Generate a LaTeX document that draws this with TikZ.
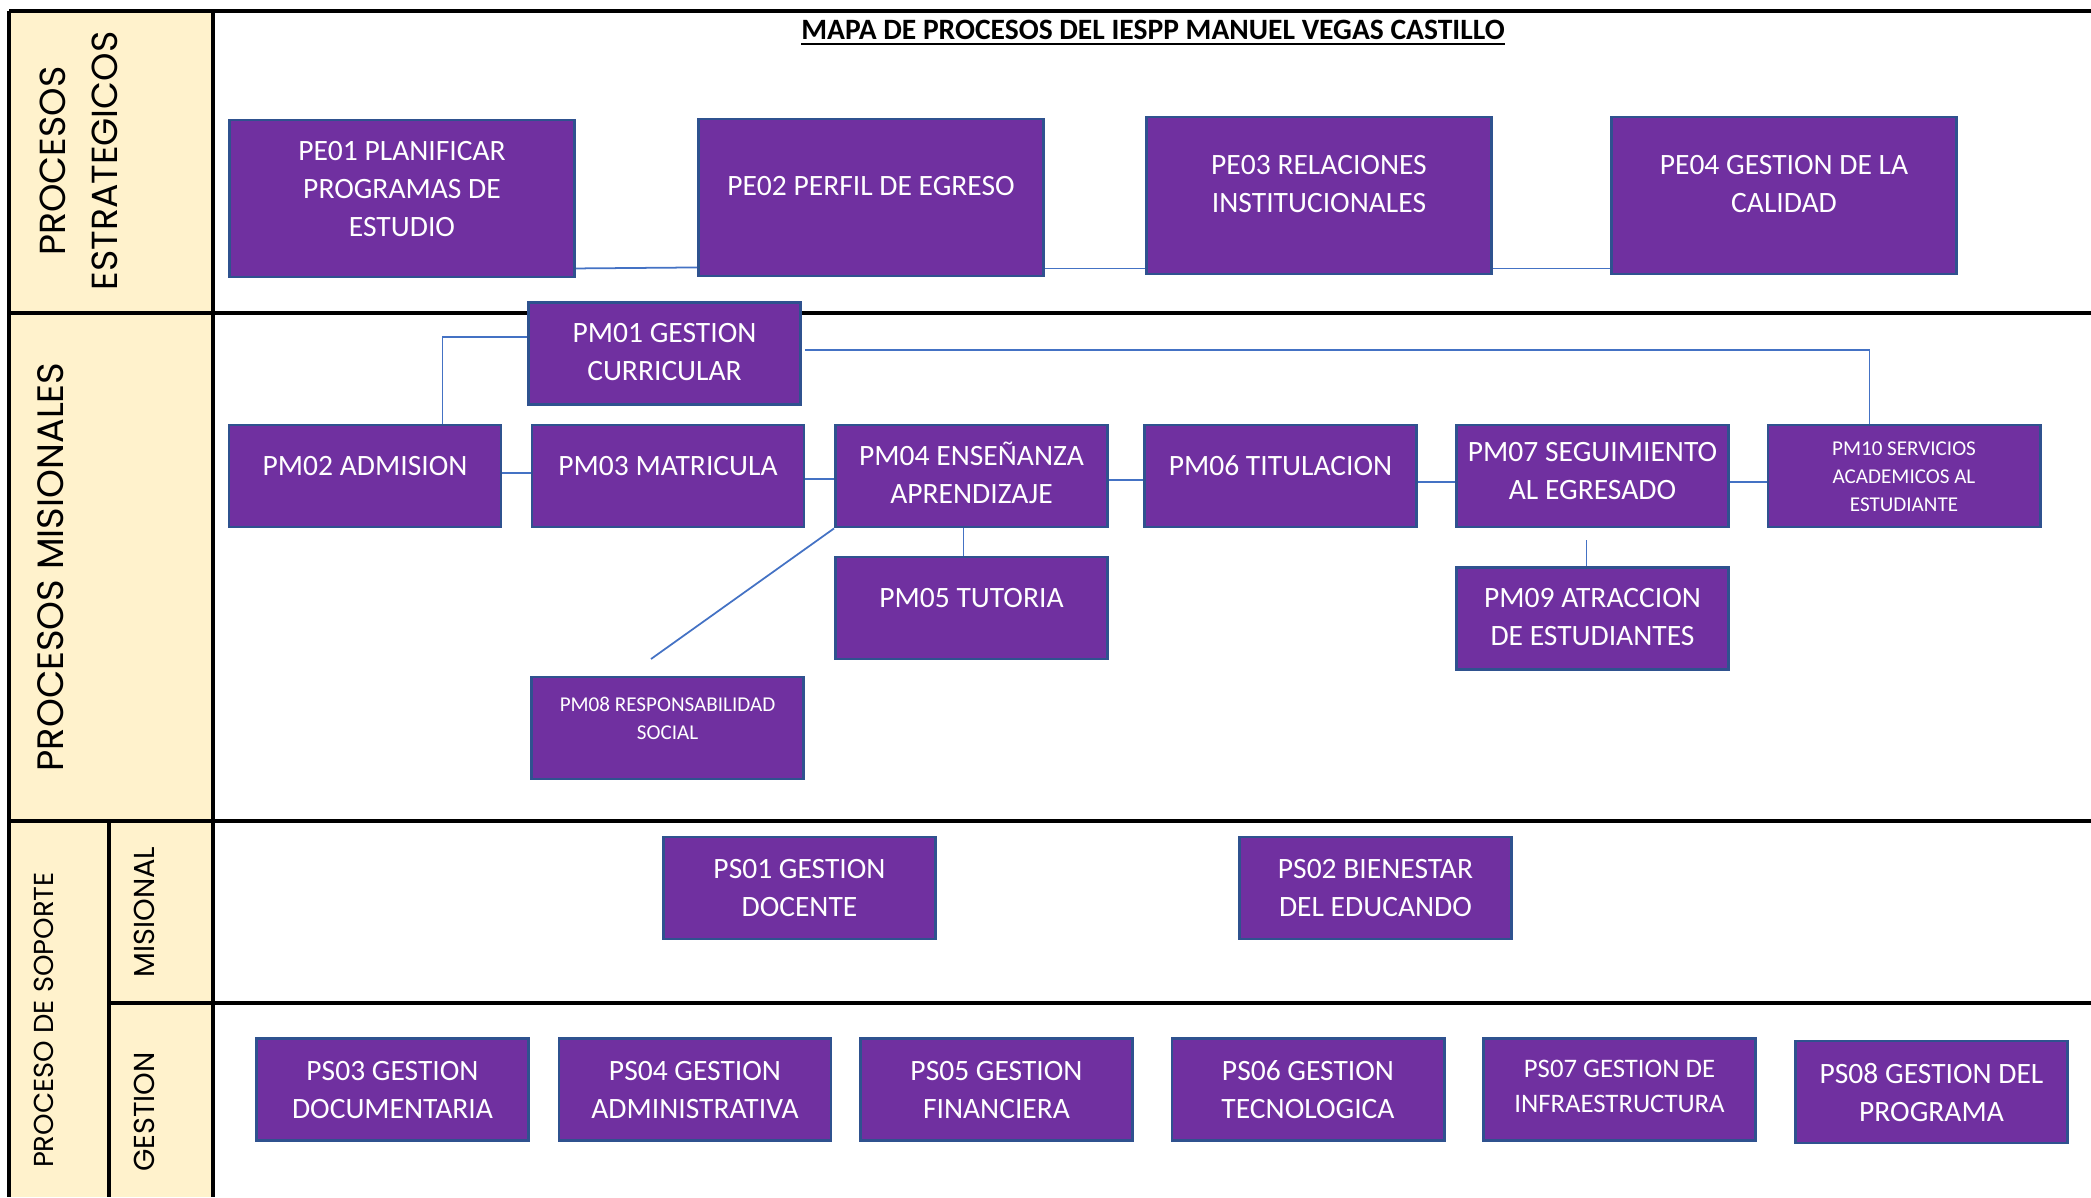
\documentclass[tikz,border=0pt]{standalone}
\usepackage{fontspec}
\setmainfont{Carlito}
\newfontfamily\gothic{Poppins}
\usetikzlibrary{calc}

\definecolor{procfill}{HTML}{7030A0}
\definecolor{procline}{HTML}{2F528F}
\definecolor{linkblue}{HTML}{4472C4}
\definecolor{bandyellow}{HTML}{FFF2CC}

% centred lines; the optional argument lifts the text inside its box
\newcommand{\boxlines}[2][-1.5pt]{\begin{tabular}{@{}c@{}}#2\\[#1]\end{tabular}}
\newcommand{\procfont}{\fontsize{8.4}{10.8}\selectfont}
\newcommand{\smallproc}{\fontsize{6}{8}\selectfont}

\begin{document}
\begin{tikzpicture}[x=0.01cm,y=-0.01cm,
  proc/.style={draw=procline, line width=0.8pt, fill=procfill, text=white,
    inner sep=0pt, font=\procfont},
  bigproc/.style={proc, minimum width=3.45cm, minimum height=1.57cm},
  midproc/.style={proc, minimum width=2.72cm, minimum height=1.02cm},
  conn/.style={draw=linkblue, line width=0.5pt},
  frame/.style={line width=0.9pt, black},
  sidelabel/.style={rotate=90, inner sep=0pt, align=center}]

\useasboundingbox (0,0) rectangle (2091,1197);

% label column and table rules
\fill[bandyellow] (9,11) rectangle (213,1197);
\draw[frame] (9,11) -- (2091,11);
\draw[frame] (9,313) -- (2091,313);
\draw[frame] (9,821) -- (2091,821);
\draw[frame] (109,1003) -- (2091,1003);
\draw[frame] (9,11) -- (9,1197);
\draw[frame] (213,11) -- (213,1197);
\draw[frame] (109,821) -- (109,1197);

% row headings
\node[sidelabel, font=\gothic\fontsize{10.3}{14.8}\selectfont] (hEstr) at (79,161) {PROCESOS\\ESTRATEGICOS};
\node[sidelabel, font=\gothic\fontsize{10.45}{12}\selectfont] (hMis) at (51,567) {PROCESOS MISIONALES};
\node[sidelabel, font=\gothic\fontsize{7.8}{9}\selectfont] (hSop) at (44,1020) {PROCESO DE SOPORTE};
\node[sidelabel, font=\gothic\fontsize{8.2}{9}\selectfont] (hMisional) at (144,912) {MISIONAL};
\node[sidelabel, font=\gothic\fontsize{8.2}{9}\selectfont] (hGestion) at (144,1112) {GESTION};

% title
\node[inner sep=0pt] (title) at (1153,33) {\fontsize{8.4}{10}\selectfont\bfseries\underline{MAPA DE PROCESOS DEL IESPP MANUEL VEGAS CASTILLO}};

% strategic processes
\node[bigproc] (pe1) at (402,198.5) {\boxlines[4.2pt]{PE01 PLANIFICAR\\PROGRAMAS DE\\ESTUDIO}};
\node[bigproc] (pe2) at (871,197.5) {\boxlines[5.3pt]{PE02 PERFIL DE EGRESO}};
\node[bigproc] (pe3) at (1319,195.5) {\boxlines[5.3pt]{PE03 RELACIONES\\INSTITUCIONALES}};
\node[bigproc] (pe4) at (1784,195.5) {\boxlines[5.3pt]{PE04 GESTION DE LA\\CALIDAD}};

\draw[conn] ($(pe1.south east)+(0,-10)$) -- ($(pe2.south west)+(0,-10)$);
\draw[conn] ($(pe2.south east)+(0,-9)$) -- ($(pe3.south west)+(0,-7)$);
\draw[conn] ($(pe3.south east)+(0,-7)$) -- ($(pe4.south west)+(0,-7)$);

% mission processes
\node[midproc] (pm1) at (664.5,353.5) {\boxlines[-0.1pt]{PM01 GESTION\\CURRICULAR}};
\node[midproc] (pm2) at (365,476) {\boxlines[4.8pt]{PM02 ADMISION}};
\node[midproc] (pm3) at (668,476) {\boxlines[4.8pt]{PM03 MATRICULA}};
\node[midproc] (pm4) at (971.5,476) {\boxlines[-0.4pt]{PM04 ENSEÑANZA\\APRENDIZAJE}};
\node[midproc] (pm6) at (1280.5,476) {\boxlines[4.8pt]{PM06 TITULACION}};
\node[midproc] (pm7) at (1592.5,476) {\boxlines[1.6pt]{PM07 SEGUIMIENTO\\AL EGRESADO}};
\node[midproc, font=\smallproc] (pm10) at (1904,476) {\boxlines[-1.2pt]{PM10 SERVICIOS\\ACADEMICOS AL\\ESTUDIANTE}};
\node[midproc] (pm5) at (971.5,608) {\boxlines[4.8pt]{PM05 TUTORIA}};
\node[midproc] (pm9) at (1592.5,618.5) {\boxlines[-0.4pt]{PM09 ATRACCION\\DE ESTUDIANTES}};
\node[midproc, font=\smallproc] (pm8) at (667.5,728) {\boxlines[4.8pt]{PM08 RESPONSABILIDAD\\SOCIAL}};

\draw[conn] ($(pm1.north west)+(0,36)$) -| ($(pm2.north west)+(215,0)$);
\draw[conn] ($(pm1.north east)+(3,49)$) -| ($(pm10.north west)+(103,0)$);
\draw[conn] ($(pm2.east)+(0,-3)$) -- ($(pm3.west)+(0,-3)$);
\draw[conn] ($(pm3.east)+(0,3)$) -- ($(pm4.west)+(0,3)$);
\draw[conn] ($(pm4.east)+(0,4)$) -- ($(pm6.west)+(0,4)$);
\draw[conn] ($(pm6.east)+(0,6)$) -- ($(pm7.west)+(0,6)$);
\draw[conn] ($(pm7.east)+(0,6)$) -- ($(pm10.west)+(0,6)$);
\draw[conn] ($(pm4.south)+(-8,0)$) -- ($(pm5.north)+(-8,0)$);
\draw[conn] ($(pm7.south)+(-6,12)$) -- ($(pm9.north)+(-6,0)$);
\coordinate (rsEnd) at (651,659);
\draw[conn] (pm4.south west) -- (rsEnd);

% support processes
\node[midproc] (ps1) at (799.5,888) {\boxlines[-0.9pt]{PS01 GESTION\\DOCENTE}};
\node[midproc] (ps2) at (1375.5,888) {\boxlines[-0.9pt]{PS02 BIENESTAR\\DEL EDUCANDO}};
\node[midproc] (ps3) at (392.5,1089.5) {\boxlines{PS03 GESTION\\DOCUMENTARIA}};
\node[midproc] (ps4) at (695,1089.5) {\boxlines{PS04 GESTION\\ADMINISTRATIVA}};
\node[midproc] (ps5) at (996.5,1089.5) {\boxlines{PS05 GESTION\\FINANCIERA}};
\node[midproc] (ps6) at (1308,1089.5) {\boxlines{PS06 GESTION\\TECNOLOGICA}};
\node[midproc, font=\fontsize{7.6}{9.9}\selectfont] (ps7) at (1619.5,1089.5) {\boxlines[0.8pt]{PS07 GESTION DE\\INFRAESTRUCTURA}};
\node[midproc] (ps8) at (1931.5,1092) {\boxlines{PS08 GESTION DEL\\PROGRAMA}};

\end{tikzpicture}
\end{document}
